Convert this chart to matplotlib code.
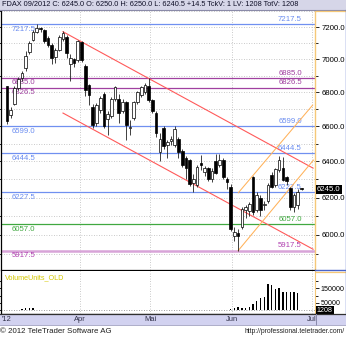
import matplotlib
matplotlib.use('Agg')
import matplotlib.pyplot as plt
import matplotlib.transforms as mtransforms
from matplotlib.lines import Line2D
from matplotlib.patches import Rectangle
from matplotlib.ticker import FixedLocator, NullFormatter, FuncFormatter

plt.rcParams['font.family'] = ['Liberation Sans', 'DejaVu Sans']

# ---------------- data ----------------
opens = [6835, 6666, 6730, 6828, 6885, 6945, 7043, 7120, 7170, 7195,
         7180, 7130, 7090, 7015, 7060, 7125, 7140, 6970, 7000, 6995,
         7105, 6960, 6843, 6715, 6620, 6695, 6790, 6640, 6660, 6760,
         6760, 6690, 6740, 6590, 6650, 6742, 6784, 6800, 6835, 6754,
         6680, 6450, 6590, 6490, 6515, 6495, 6525, 6460, 6420, 6408,
         6280, 6270, 6390, 6340, 6360, 6300, 6400, 6380, 6408, 6300,
         6260, 5995, 6010, 6040, 6134, 6125, 6310, 6135, 6200, 6160,
         6180, 6325, 6270, 6350, 6365, 6310, 6250, 6150, 6160, 6250]
highs = [6840, 6710, 6840, 6890, 6930, 7050, 7110, 7180, 7217.5, 7200,
         7190, 7145, 7100, 7070, 7150, 7175, 7150, 7035, 7010, 7120,
         7115, 6970, 6850, 6730, 6735, 6780, 6800, 6690, 6770, 6835,
         6790, 6760, 6750, 6637, 6750, 6810, 6840, 6855, 6885, 6760,
         6690, 6560, 6600, 6520, 6545, 6600, 6540, 6470, 6430, 6415,
         6330, 6380, 6436, 6375, 6370, 6360, 6440, 6440, 6420, 6310,
         6275, 6040, 6030, 6150, 6160, 6175, 6320, 6230, 6215, 6180,
         6280, 6340, 6365, 6430, 6425, 6320, 6260, 6225, 6245, 6250]
lows = [6615, 6650, 6725, 6815, 6870, 6930, 7035, 7110, 7160, 7170,
        7100, 7075, 6970, 6975, 7050, 7110, 7010, 6870, 6950, 6985,
        6985, 6780, 6724, 6590, 6600, 6680, 6590, 6550, 6650, 6750,
        6620, 6680, 6520, 6550, 6635, 6730, 6770, 6790, 6745, 6680,
        6540, 6400, 6470, 6420, 6490, 6480, 6420, 6370, 6300, 6265,
        6227.5, 6260, 6352, 6320, 6290, 6285, 6330, 6370, 6300, 6245,
        6020, 5970, 5917.5, 6030, 6090, 6100, 6105, 6120, 6100, 6130,
        6170, 6250, 6260, 6340, 6290, 6270, 6130, 6120, 6140, 6240.5]
closes = [6630, 6695, 6825, 6880, 6915, 7020, 7100, 7170, 7195, 7185,
          7110, 7085, 7010, 7055, 7135, 7165, 7040, 7010, 6975, 7110,
          6995, 6815, 6784, 6605, 6724, 6765, 6600, 6670, 6760, 6830,
          6680, 6740, 6605, 6595, 6742, 6800, 6830, 6843, 6754, 6690,
          6560, 6525, 6485, 6510, 6525, 6585, 6450, 6380, 6365, 6275,
          6300, 6370, 6380, 6360, 6300, 6345, 6335, 6410, 6310, 6285,
          6030, 6015, 5995, 6140, 6150, 6165, 6120, 6215, 6135, 6165,
          6270, 6260, 6355, 6410, 6297, 6290, 6150, 6215, 6230.5, 6245]
volumes = [0, 0, 0, 0, 7000, 11000, 16000, 16000, 0, 0,
           0, 0, 0, 0, 0, 0, 0, 0, 0, 0,
           0, 0, 0, 0, 0, 0, 0, 0, 0, 0,
           0, 0, 0, 0, 0, 0, 0, 0, 0, 0,
           0, 0, 0, 0, 0, 0, 0, 0, 0, 0,
           0, 0, 0, 0, 3000, 3000, 0, 0, 0, 0,
           9000, 16000, 18000, 12000, 12000, 23000, 39000, 62000, 81000, 93000,
           180000, 173000, 143000, 150000, 127000, 123000, 123000, 123000, 116000, 1208]

month_labels = ["'12", "Apr", "Mai", "Jun", "Jul"]
month_pos = [-1.35, 19.5, 38.4, 60.3, 81.8]

levels = [7217.5, 6885.0, 6826.5, 6599.0, 6444.5, 6227.5, 6057.0, 5917.5]
level_kind = ['blue', 'purple', 'purple', 'blue', 'blue', 'blue', 'green', 'pink']

price_ticks = [6000, 6200, 6400, 6600, 6800, 7000, 7200]
price_grid = [5900, 6000, 6100, 6200, 6300, 6400, 6500, 6600, 6700, 6800,
              6900, 7000, 7100, 7200, 7300]
vol_ticks = [50000, 150000]

# trend channels: (start index, start price, end index, end price)
red_lines = [(15.02, 7171, 82.1, 6362), (15.02, 6677, 82.1, 5925)]
orange_lines = [(62.0, 5917.5, 82.2, 6407), (62.05, 6226, 82.0, 6724)]

title = ("FDAX 09/2012 C: 6245.0 O: 6250.0 H: 6250.0 L: 6240.5 +14.5 "
         "TckV: 1 LV: 1208 TotV: 1208")
last_price = 6245.0
last_volume = 1208

# ---------------- layout ----------------
W, H = 346, 337
fig = plt.figure(figsize=(W / 100, H / 100), dpi=100)
fig.patch.set_facecolor('white')


def rect(x0, y0, x1, y1):
    return [x0 / W, 1 - y1 / H, (x1 - x0) / W, (y1 - y0) / H]


def fline(x0, y0, x1, y1, color, lw=1.0):
    fig.add_artist(Line2D([x0 / W, x1 / W], [1 - y0 / H, 1 - y1 / H],
                          transform=fig.transFigure, color=color, lw=lw))


# title bar
fig.add_artist(Rectangle((0, 1 - 10 / H), 1, 10 / H, transform=fig.transFigure,
                         facecolor='#d6d6e8', edgecolor='none'))
fline(0, 10, 346, 10, '#8a8aa8', 0.8)
fig.text(2 / W, 1 - 5 / H, title, ha='left', va='center', fontsize=5.3,
         color='#101028')

BLUE_LINE = '#7090f0'
BLUE_TXT = '#6a8cf0'
PURPLE = '#a040a0'
GREEN = '#40a840'
PINK_LINE = '#d8a4d8'
PINK_TXT = '#b040b0'
ORANGE = '#f5c878'
col_line = {'blue': BLUE_LINE, 'purple': PURPLE, 'green': GREEN, 'pink': PINK_LINE}
col_txt = {'blue': BLUE_TXT, 'purple': PURPLE, 'green': GREEN, 'pink': PINK_TXT}

n = len(closes)
xs = list(range(n))
xlim = (-1.61, 82.62)

# ---------------- main price axes ----------------
ax = fig.add_axes(rect(1, 10, 315, 270))
ax.set_yscale('log')
ax.set_xlim(*xlim)
ax.set_ylim(5818, 7309)
ax.yaxis.set_major_locator(FixedLocator(price_ticks))
ax.yaxis.set_major_formatter(FuncFormatter(lambda v, p: f'{v:.1f}'))
ax.yaxis.set_minor_locator(FixedLocator([g for g in price_grid if g not in price_ticks]))
ax.yaxis.set_minor_formatter(NullFormatter())
ax.tick_params(axis='y', which='both', left=True, right=True, labelleft=False,
               labelright=True, labelsize=5.6, pad=2, direction='out', width=0.6,
               colors='black')
ax.tick_params(axis='y', which='major', length=3)
ax.tick_params(axis='y', which='minor', length=2)
ax.set_xticks(month_pos[1:])
ax.tick_params(axis='x', which='both', length=0, labelbottom=False)
ax.grid(True, axis='y', which='both', linestyle=(0, (1, 2)), color='#b8b8b8', lw=0.6)
ax.grid(True, axis='x', linestyle=(0, (1, 2)), color='#b8b8b8', lw=0.6)
ax.set_axisbelow(True)
for s in ['left', 'bottom']:
    ax.spines[s].set_color('black')
    ax.spines[s].set_linewidth(0.9)
ax.spines['top'].set_visible(False)
ax.spines['right'].set_color(ORANGE)
ax.spines['right'].set_linewidth(1.0)

# level lines and labels
tr = mtransforms.blended_transform_factory(ax.transAxes, ax.transData)
tr_below = mtransforms.offset_copy(tr, fig=fig, y=-1.0, units='points')
tr_above = mtransforms.offset_copy(tr, fig=fig, y=1.0, units='points')
for lv, kind in zip(levels, level_kind):
    lw = 1.8 if kind == 'pink' else 0.9
    ax.axhline(lv, color=col_line[kind], lw=lw, zorder=1.5)
    ax.text(0.035, lv, f'{lv:.1f}', transform=tr_below, ha='left', va='top',
            fontsize=5.6, color=col_txt[kind], zorder=1.6)
    ax.text(0.958, lv, f'{lv:.1f}', transform=tr_above, ha='right', va='bottom',
            fontsize=5.6, color=col_txt[kind], zorder=1.6)

# trend channels
for x0, p0, x1, p1 in red_lines:
    ax.plot([x0, x1], [p0, p1], color='#ff5a5a', lw=0.8, zorder=2)
for x0, p0, x1, p1 in orange_lines:
    ax.plot([x0, x1], [p0, p1], color='#ffb25a', lw=0.75, zorder=2)

# candles
ax.vlines(xs, lows, highs, color='#202020', lw=0.6, zorder=3)
bottoms = [min(o, c) for o, c in zip(opens, closes)]
heights = [max(abs(c - o), 2.0) for o, c in zip(opens, closes)]
faces = ['white' if c >= o else 'black' for o, c in zip(opens, closes)]
ax.bar(xs, heights, bottom=bottoms, width=0.72, color=faces, edgecolor='black',
       linewidth=0.5, zorder=4)

# last price box
ax.text(1.006, last_price, f'{last_price:.1f}', transform=tr, ha='left', va='center',
        fontsize=5.6, color='white', zorder=10, clip_on=False,
        bbox=dict(facecolor='black', edgecolor='none', pad=0.8))

# ---------------- volume axes ----------------
axv = fig.add_axes(rect(1, 271, 315, 314))
axv.set_xlim(*xlim)
axv.set_ylim(-27800, 270800)
axv.bar(xs, volumes, width=0.38, color='black', zorder=3)
axv.axhline(0, color='#808080', lw=0.6, linestyle=(0, (1, 2)), zorder=2)
axv.set_xticks(month_pos[1:])
axv.tick_params(axis='x', which='both', length=0, labelbottom=False)
axv.grid(True, axis='x', linestyle=(0, (1, 2)), color='#b8b8b8', lw=0.6)
axv.set_yticks(vol_ticks)
axv.set_yticklabels([str(v) for v in vol_ticks])
axv.yaxis.set_minor_locator(FixedLocator([0, 100000, 200000]))
axv.tick_params(axis='y', which='both', left=True, right=True, labelleft=False,
                labelright=True, labelsize=5.1, pad=1.2, direction='out', width=0.6)
axv.tick_params(axis='y', which='major', length=3)
axv.tick_params(axis='y', which='minor', length=2)
for s in ['left', 'bottom']:
    axv.spines[s].set_color('black')
    axv.spines[s].set_linewidth(0.9)
axv.spines['top'].set_visible(False)
axv.spines['right'].set_color(ORANGE)
axv.text(0.012, 0.93, 'VolumeUnits_OLD', transform=axv.transAxes, ha='left', va='top',
         fontsize=5.2, color='#d4c800')
trv = mtransforms.blended_transform_factory(axv.transAxes, axv.transData)
axv.text(1.006, -3000, f'{last_volume}', transform=trv, ha='left', va='center',
         fontsize=5.1, color='white', zorder=10, clip_on=False,
         bbox=dict(facecolor='black', edgecolor='none', pad=0.6))

# right label area frame
fline(315.5, 10.5, 345.5, 10.5, ORANGE, 0.9)
fline(345.5, 10, 345.5, 270, '#4a64c8', 1.0)
fline(315, 270, 346, 270, '#4a64c8', 1.0)
fline(315.5, 271.5, 345.5, 271.5, ORANGE, 0.9)
fline(345.5, 271, 345.5, 314, '#4a64c8', 1.0)

# ---------------- date bar ----------------
fig.add_artist(Rectangle((0, 1 - 325 / H), 1, 11 / H, transform=fig.transFigure,
                         facecolor='#d2d2f0', edgecolor='none'))
fline(0, 314.3, 346, 314.3, '#303030', 0.9)
fline(315.5, 314, 315.5, 325, '#8888aa', 0.7)
fline(0, 325, 346, 325, '#a0a0c0', 0.6)
trd = mtransforms.blended_transform_factory(axv.transData, fig.transFigure)
for lab, pos in zip(month_labels, month_pos):
    fig.text(pos, 1 - 319.5 / H, lab, transform=trd,
             ha='left' if lab.startswith("'") else 'center', va='center',
             fontsize=5.4, color='#303048')

# footer
fig.text(0.5 / W, 1 - 331.5 / H, '© 2012 TeleTrader Software AG', ha='left',
         va='center', fontsize=5.7, color='#202020')
fig.text(345 / W, 1 - 331.5 / H, 'http://professional.teletrader.com/', ha='right',
         va='center', fontsize=4.9, color='#202020')

fig.savefig('out.png', dpi=100)
